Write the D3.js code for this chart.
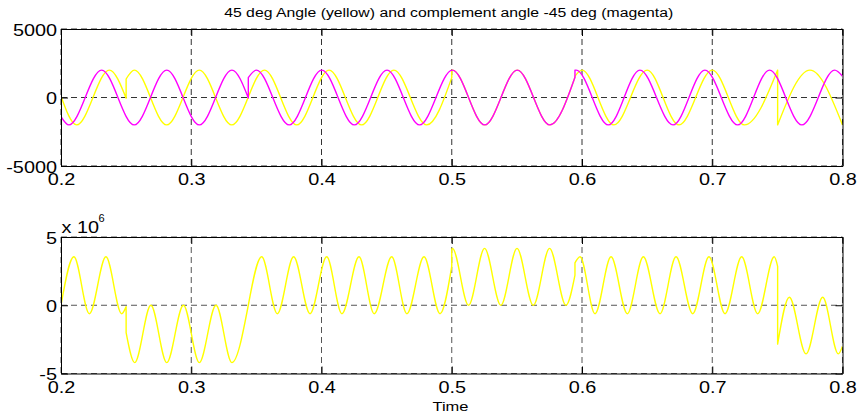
<!DOCTYPE html>
<html>
<head>
<meta charset="utf-8">
<script src="https://cdn.jsdelivr.net/npm/d3@7"></script>
<style>
  body { margin: 0; background: #fff; }
  svg { display: block; }
  text { font-family: "Liberation Sans", Arial, Helvetica, sans-serif; fill: #000; }
</style>
</head>
<body>
<svg id="fig" width="858" height="419"></svg>
<script>
// ---- axis ticks ----
const timeTicks = [0.2, 0.3, 0.4, 0.5, 0.6, 0.7, 0.8];
const timeTickLabels = ["0.2", "0.3", "0.4", "0.5", "0.6", "0.7", "0.8"];
const angleTicks = [-5000, 0, 5000];
const angleTickLabels = ["-5000", "0", "5000"];
const productTicks = [-5e6, 0, 5e6];
const productTickLabels = ["-5", "0", "5"];

// ---- 45 deg signal (yellow): extrema and step points; a repeated time is a step ----
const yellowTime = [
  0.2, 0.212, 0.2371, 0.25,
  0.25, 0.2563, 0.2811, 0.3062, 0.3311, 0.3562, 0.381, 0.4058, 0.4308, 0.4556, 0.4808, 0.5,
  0.5, 0.5005, 0.5253, 0.5503, 0.5753, 0.5946,
  0.5946, 0.6, 0.6245, 0.65, 0.6745, 0.7, 0.7247, 0.7502,
  0.7502, 0.775, 0.8
];
const yellowValue = [
  100, -2000, 2000, -50,
  1350, 2000, -2000, 2000, -2000, 2000, -2000, 2000, -2000, 2000, -2000, 1450,
  1995, 2000, -2000, 2000, -2000, 1480,
  1560, 2000, -2000, 2000, -2000, 2000, -2000, 2000,
  -2000, 2000, -2000
];

// ---- complement -45 deg signal (magenta) ----
const magentaTime = [
  0.2, 0.206, 0.2312, 0.2562, 0.2812, 0.3062, 0.3312, 0.3438,
  0.3438, 0.35, 0.3752, 0.4002, 0.4252, 0.4503, 0.4753, 0.5005, 0.5253, 0.5503, 0.5753, 0.5946,
  0.5946, 0.5955, 0.6202, 0.6445, 0.6699, 0.6944, 0.7195, 0.744, 0.7688, 0.794, 0.8
];
const magentaValue = [
  -1400, -2000, 2000, -2000, 2000, -2000, 2000, -30,
  1450, 2000, -2000, 2000, -2000, 2000, -2000, 2000, -2000, 2000, -2000, 1480,
  1990, 2000, -2000, 2000, -2000, 2000, -2000, 2000, -2000, 2000, 1550
];

// ---- lower trace (yellow) ----
const productTime = [
  0.2, 0.2099, 0.2218, 0.2345, 0.2466, 0.25,
  0.25, 0.2566, 0.269, 0.2812, 0.294, 0.3062, 0.319, 0.3312, 0.3438,
  0.3438, 0.3541, 0.3661, 0.3786, 0.3912, 0.404, 0.4157, 0.4288, 0.4405, 0.4539, 0.4656, 0.4787, 0.491, 0.5,
  0.5, 0.5005, 0.5129, 0.5252, 0.5377, 0.5501, 0.5626, 0.5751, 0.5877, 0.5946,
  0.5946, 0.5985, 0.61, 0.6223, 0.6348, 0.6471, 0.6599, 0.6722, 0.685, 0.6975, 0.7098, 0.7226, 0.7349, 0.7476, 0.7502,
  0.7502, 0.7592, 0.772, 0.7848, 0.7968, 0.8
];
const productValue = [
  0, 3.55e6, -0.62e6, 3.55e6, -0.62e6, -0.1e6,
  -2.0e6, -4.2e6, 0, -4.2e6, 0, -4.2e6, 0, -4.2e6, 0,
  0, 3.55e6, -0.62e6, 3.55e6, -0.62e6, 3.55e6, -0.62e6, 3.55e6, -0.62e6, 3.55e6, -0.62e6, 3.55e6, -0.62e6, 2.85e6,
  4.1e6, 4.17e6, 0, 4.17e6, 0, 4.17e6, 0, 4.17e6, 0, 2.2e6,
  3.1e6, 3.55e6, -0.62e6, 3.55e6, -0.62e6, 3.55e6, -0.62e6, 3.55e6, -0.62e6, 3.55e6, -0.62e6, 3.55e6, -0.62e6, 3.55e6, 2.85e6,
  -2.85e6, 0.59e6, -3.56e6, 0.59e6, -3.56e6, -3.0e6
];

// ---- layout ----
const plotLeft = 61, plotRight = 842.5;
const TEXT_STRETCH = 1.24;

const svg = d3.select("#fig");
const x = d3.scaleLinear().domain([0.2, 0.8]).range([plotLeft, plotRight]);

// split a trace into continuous pieces wherever a time repeats (a step)
function pieces(times, values) {
  const out = [];
  let cur = [];
  times.forEach((t, i) => {
    if (i > 0 && t === times[i - 1]) { out.push(cur); cur = []; }
    cur.push([t, values[i]]);
  });
  out.push(cur);
  return out;
}

// one path: smooth pieces joined by vertical steps
function tracePath(times, values, y) {
  const line = d3.line()
    .x(d => x(d[0]))
    .y(d => y(d[1]))
    .curve(d3.curveMonotoneX);
  return pieces(times, values)
    .map((p, i) => { const s = line(p); return i ? "L" + s.slice(1) : s; })
    .join("");
}

function stretchText(sel, factor) {
  sel.each(function () {
    const w = this.getComputedTextLength();
    this.setAttribute("textLength", w * factor);
    this.setAttribute("lengthAdjust", "spacingAndGlyphs");
  });
}

function panel(id, top, bottom, domain, yTicks, yLabels, gridColor, traces) {
  const y = d3.scaleLinear().domain(domain).range([bottom, top]);
  const g = svg.append("g");

  g.append("clipPath").attr("id", id)
    .append("rect")
    .attr("x", plotLeft).attr("y", top)
    .attr("width", plotRight - plotLeft).attr("height", bottom - top);

  // dashed grid
  const grid = g.append("g")
    .attr("stroke", gridColor)
    .attr("stroke-width", 1)
    .attr("stroke-dasharray", "6,4");
  grid.selectAll("line.v").data(timeTicks).join("line")
    .attr("class", "v")
    .attr("x1", d => x(d)).attr("x2", d => x(d))
    .attr("y1", top).attr("y2", bottom);
  grid.selectAll("line.h").data(yTicks).join("line")
    .attr("class", "h")
    .attr("x1", plotLeft).attr("x2", plotRight)
    .attr("y1", d => y(d)).attr("y2", d => y(d));

  // traces
  const data = g.append("g").attr("clip-path", `url(#${id})`);
  traces.forEach(tr => {
    data.append("path")
      .attr("d", tracePath(tr.time, tr.value, y))
      .attr("fill", "none")
      .attr("stroke", tr.color)
      .attr("stroke-width", 1.4)
      .attr("stroke-linejoin", "round");
  });

  // box axes with inward ticks
  const bottomAxis = g.append("g")
    .attr("transform", `translate(0,${bottom})`)
    .call(d3.axisBottom(x).tickValues(timeTicks)
      .tickFormat((d, i) => timeTickLabels[i])
      .tickSizeInner(-7).tickSizeOuter(0));
  bottomAxis.selectAll("text").attr("y", 19).attr("dy", null);

  g.append("g")
    .attr("transform", `translate(0,${top})`)
    .call(d3.axisTop(x).tickValues(timeTicks).tickFormat("")
      .tickSizeInner(-7).tickSizeOuter(0));

  const leftAxis = g.append("g")
    .attr("transform", `translate(${plotLeft},0)`)
    .call(d3.axisLeft(y).tickValues(yTicks)
      .tickFormat((d, i) => yLabels[i])
      .tickSizeInner(-7).tickSizeOuter(0).tickPadding(4));
  leftAxis.selectAll("text").attr("dy", null).attr("y", 6);

  g.append("g")
    .attr("transform", `translate(${plotRight},0)`)
    .call(d3.axisRight(y).tickValues(yTicks).tickFormat("")
      .tickSizeInner(-7).tickSizeOuter(0));

  g.selectAll(".domain, .tick line").attr("stroke", "#000").attr("stroke-width", 1);
  g.selectAll(".tick text")
    .attr("font-family", "Liberation Sans, Arial, Helvetica, sans-serif")
    .attr("font-size", 16)
    .attr("fill", "#000")
    .call(stretchText, TEXT_STRETCH);
  g.selectAll("g.tick, g").attr("font-size", null);
  return y;
}

panel("clipTop", 29, 166, [-5000, 5000], angleTicks, angleTickLabels, "#333", [
  { time: yellowTime, value: yellowValue, color: "#ffff00" },
  { time: magentaTime, value: magentaValue, color: "#ff00ff" }
]);

panel("clipBottom", 237, 373.5, [-5e6, 5e6], productTicks, productTickLabels, "#555", [
  { time: productTime, value: productValue, color: "#ffff00" }
]);

// title
svg.append("text")
  .attr("x", 448.7).attr("y", 16.5)
  .attr("text-anchor", "middle")
  .attr("font-size", 12)
  .attr("textLength", 449)
  .attr("lengthAdjust", "spacingAndGlyphs")
  .text("45 deg Angle (yellow) and complement angle -45 deg (magenta)");

// exponent of the lower y axis
const expo = svg.append("text").attr("x", 61.5).attr("y", 233).attr("font-size", 16).text("x 10");
stretchText(expo, TEXT_STRETCH);
svg.append("text").attr("x", 98.5).attr("y", 222).attr("font-size", 11).text("6");

// x label
svg.append("text")
  .attr("x", 450.5).attr("y", 410.5)
  .attr("text-anchor", "middle")
  .attr("font-size", 13)
  .attr("textLength", 36)
  .attr("lengthAdjust", "spacingAndGlyphs")
  .text("Time");
</script>
</body>
</html>
